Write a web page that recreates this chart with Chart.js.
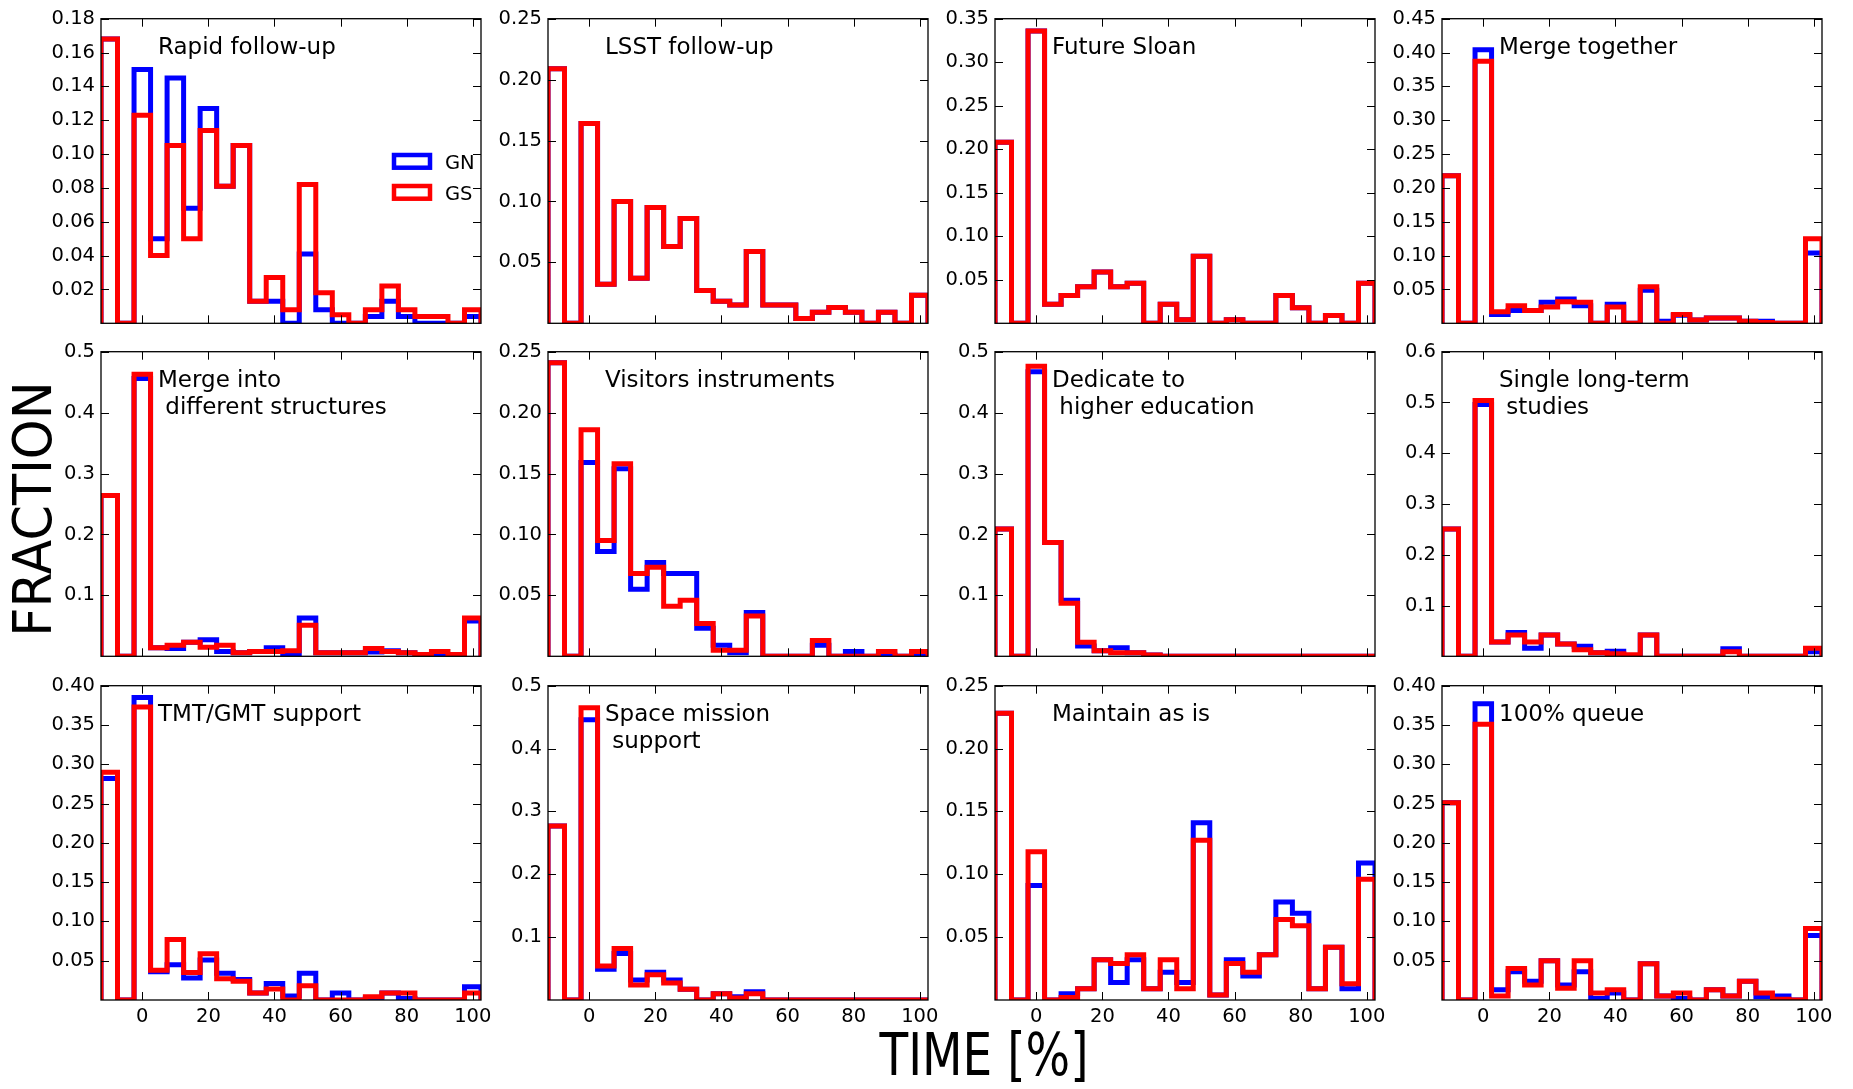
<!DOCTYPE html>
<html>
<head>
<meta charset="utf-8">
<script src="https://cdn.jsdelivr.net/npm/chart.js@4.4.0/dist/chart.umd.min.js"></script>
<style>
  body { margin: 0; background: #fff; width: 1853px; height: 1089px; overflow: hidden; position: relative; font-family: 'DejaVu Sans', sans-serif; }
  canvas { position: absolute; }
  .big { position: absolute; font-size: 58px; line-height: 58px; width: 400px; text-align: center; color: #000; white-space: nowrap; }
</style>
</head>
<body>
<div class="big" style="left:-167px;top:480px;transform:rotate(-90deg) scale(0.875,0.92)">FRACTION</div>
<div class="big" style="left:784px;top:1026px;transform:scaleX(0.81)">TIME [%]</div>
<script>
// bin centres (percent of time), every bin is 5 wide
const binCenters = [-10, -5, 0, 5, 10, 15, 20, 25, 30, 35, 40, 45, 50, 55, 60, 65, 70, 75, 80, 85, 90, 95, 100];
const binWidth = 5;
const xTicks = [0, 20, 40, 60, 80, 100];

// y tick labels
const ticks02to18 = ['0.02', '0.04', '0.06', '0.08', '0.10', '0.12', '0.14', '0.16', '0.18'];
const ticks05to25 = ['0.05', '0.10', '0.15', '0.20', '0.25'];
const ticks05to35 = ['0.05', '0.10', '0.15', '0.20', '0.25', '0.30', '0.35'];
const ticks05to40 = ['0.05', '0.10', '0.15', '0.20', '0.25', '0.30', '0.35', '0.40'];
const ticks05to45 = ['0.05', '0.10', '0.15', '0.20', '0.25', '0.30', '0.35', '0.40', '0.45'];
const ticks1to5 = ['0.1', '0.2', '0.3', '0.4', '0.5'];
const ticks1to6 = ['0.1', '0.2', '0.3', '0.4', '0.5', '0.6'];

// fractions per bin, GN and GS
const rapidGN = [0.168, 0, 0.150, 0.050, 0.145, 0.068, 0.127, 0.081, 0.105, 0.013, 0.013, 0, 0.041, 0.008, 0, 0, 0.004, 0.013, 0.004, 0, 0, 0, 0.004];
const rapidGS = [0.168, 0, 0.123, 0.040, 0.105, 0.050, 0.114, 0.081, 0.105, 0.013, 0.027, 0.008, 0.082, 0.018, 0.005, 0, 0.008, 0.022, 0.008, 0.004, 0.004, 0, 0.008];
const lsstGN = [0.209, 0, 0.164, 0.032, 0.100, 0.037, 0.095, 0.063, 0.086, 0.027, 0.018, 0.015, 0.059, 0.015, 0.015, 0.004, 0.009, 0.013, 0.009, 0, 0.009, 0, 0.023];
const lsstGS = [0.209, 0, 0.164, 0.032, 0.100, 0.037, 0.095, 0.063, 0.086, 0.027, 0.018, 0.015, 0.059, 0.015, 0.015, 0.004, 0.009, 0.013, 0.009, 0, 0.009, 0, 0.023];
const sloanGN = [0.208, 0, 0.336, 0.022, 0.032, 0.042, 0.059, 0.042, 0.046, 0, 0.022, 0.004, 0.077, 0, 0.004, 0, 0, 0.032, 0.018, 0, 0.009, 0, 0.046];
const sloanGS = [0.208, 0, 0.336, 0.022, 0.032, 0.042, 0.059, 0.042, 0.046, 0, 0.022, 0.004, 0.077, 0, 0.004, 0, 0, 0.032, 0.018, 0, 0.009, 0, 0.046];
const mergeGN = [0.218, 0, 0.404, 0.013, 0.019, 0.019, 0.031, 0.036, 0.026, 0, 0.028, 0, 0.049, 0.003, 0.012, 0.005, 0.008, 0.008, 0.003, 0.003, 0, 0, 0.104];
const mergeGS = [0.218, 0, 0.387, 0.017, 0.026, 0.019, 0.024, 0.032, 0.031, 0, 0.024, 0, 0.054, 0, 0.013, 0.005, 0.008, 0.008, 0.003, 0.001, 0, 0, 0.125];
const intoGN = [0.264, 0, 0.456, 0.014, 0.013, 0.023, 0.027, 0.008, 0.006, 0.008, 0.014, 0.004, 0.063, 0.006, 0.006, 0.006, 0.007, 0.009, 0.006, 0.003, 0.003, 0.003, 0.058];
const intoGS = [0.264, 0, 0.463, 0.014, 0.018, 0.023, 0.015, 0.018, 0.006, 0.008, 0.008, 0.009, 0.051, 0.006, 0.006, 0.006, 0.013, 0.008, 0.006, 0.003, 0.008, 0.003, 0.063];
const visGN = [0.241, 0, 0.159, 0.086, 0.154, 0.055, 0.077, 0.068, 0.068, 0.023, 0.009, 0.003, 0.036, 0, 0, 0, 0.009, 0, 0.004, 0, 0.001, 0, 0.001];
const visGS = [0.241, 0, 0.186, 0.095, 0.158, 0.068, 0.073, 0.041, 0.046, 0.027, 0.005, 0.005, 0.033, 0, 0, 0, 0.013, 0, 0, 0, 0.004, 0, 0.004];
const eduGN = [0.209, 0, 0.467, 0.187, 0.092, 0.017, 0.009, 0.014, 0.006, 0.002, 0, 0, 0, 0, 0, 0, 0, 0, 0, 0, 0, 0, 0];
const eduGS = [0.209, 0, 0.476, 0.187, 0.087, 0.023, 0.009, 0.006, 0.006, 0.002, 0, 0, 0, 0, 0, 0, 0, 0, 0, 0, 0, 0, 0];
const singleGN = [0.251, 0, 0.496, 0.028, 0.047, 0.016, 0.042, 0.024, 0.020, 0.007, 0.010, 0, 0.042, 0, 0, 0, 0, 0.015, 0, 0, 0, 0, 0.009];
const singleGS = [0.251, 0, 0.504, 0.028, 0.042, 0.028, 0.042, 0.024, 0.013, 0.007, 0.005, 0.003, 0.042, 0, 0, 0, 0, 0.009, 0, 0, 0, 0, 0.016];
const tmtGN = [0.282, 0, 0.385, 0.036, 0.045, 0.028, 0.051, 0.034, 0.026, 0.009, 0.021, 0.005, 0.034, 0, 0.009, 0, 0.002, 0.009, 0.002, 0, 0, 0, 0.017];
const tmtGS = [0.290, 0, 0.373, 0.038, 0.077, 0.035, 0.059, 0.027, 0.024, 0.009, 0.014, 0, 0.018, 0, 0, 0, 0.004, 0.009, 0.009, 0, 0, 0, 0.009];
const spaceGN = [0.277, 0, 0.446, 0.049, 0.074, 0.032, 0.044, 0.032, 0.017, 0, 0.010, 0.005, 0.013, 0, 0, 0, 0, 0, 0, 0, 0, 0, 0];
const spaceGS = [0.277, 0, 0.465, 0.054, 0.082, 0.024, 0.040, 0.027, 0.017, 0, 0.010, 0.003, 0.010, 0, 0, 0, 0, 0, 0, 0, 0, 0, 0];
const keepGN = [0.228, 0, 0.091, 0, 0.005, 0.009, 0.032, 0.014, 0.032, 0.009, 0.022, 0.014, 0.141, 0.004, 0.032, 0.019, 0.036, 0.078, 0.069, 0.009, 0.042, 0.009, 0.109];
const keepGS = [0.228, 0, 0.118, 0, 0.002, 0.009, 0.032, 0.029, 0.036, 0.009, 0.032, 0.009, 0.127, 0.004, 0.029, 0.022, 0.036, 0.064, 0.059, 0.009, 0.042, 0.013, 0.096];
const queueGN = [0.251, 0, 0.377, 0.013, 0.036, 0.024, 0.050, 0.019, 0.036, 0.002, 0.009, 0, 0.046, 0.005, 0.002, 0, 0.013, 0.005, 0.024, 0.004, 0.005, 0, 0.082];
const queueGS = [0.251, 0, 0.351, 0.005, 0.040, 0.019, 0.050, 0.015, 0.050, 0.009, 0.013, 0, 0.046, 0.005, 0.009, 0, 0.013, 0.005, 0.024, 0.009, 0.001, 0, 0.091];

const titles = [
  ['Rapid follow-up'], ['LSST follow-up'], ['Future Sloan'], ['Merge together'],
  ['Merge into', ' different structures'], ['Visitors instruments'], ['Dedicate to', ' higher education'], ['Single long-term', ' studies'],
  ['TMT/GMT support'], ['Space mission', ' support'], ['Maintain as is'], ['100% queue']
];
const gnSets = [rapidGN, lsstGN, sloanGN, mergeGN, intoGN, visGN, eduGN, singleGN, tmtGN, spaceGN, keepGN, queueGN];
const gsSets = [rapidGS, lsstGS, sloanGS, mergeGS, intoGS, visGS, eduGS, singleGS, tmtGS, spaceGS, keepGS, queueGS];
const yMaxes = [0.18, 0.25, 0.35, 0.45, 0.5, 0.25, 0.5, 0.6, 0.40, 0.5, 0.25, 0.40];
const yTickSets = [ticks02to18, ticks05to25, ticks05to35, ticks05to45, ticks1to5, ticks05to25, ticks1to5, ticks1to6, ticks05to40, ticks1to5, ticks05to25, ticks05to40];

Chart.defaults.font.family = "'DejaVu Sans', sans-serif";
Chart.defaults.font.size = 19.5;
Chart.defaults.color = '#000';

// outline of a step histogram: up the first edge, across each bin, down the last edge
function stepPoints(values) {
  const half = binWidth / 2;
  const pts = [{ x: binCenters[0] - half, y: 0 }];
  values.forEach((v, i) => pts.push({ x: binCenters[i] - half, y: v }));
  const last = binCenters[binCenters.length - 1] + half;
  pts.push({ x: last, y: values[values.length - 1] });
  pts.push({ x: last, y: 0 });
  return pts;
}

const framePlugin = {
  id: 'frame',
  afterDraw(chart, args, opts) {
    const { ctx, chartArea: a, scales: { x, y } } = chart;
    ctx.save();
    ctx.strokeStyle = '#000';
    ctx.lineWidth = 1;
    ctx.beginPath();
    xTicks.forEach(v => {
      const px = Math.round(x.getPixelForValue(v)) + 0.5;
      ctx.moveTo(px, a.bottom); ctx.lineTo(px, a.bottom - 8);
      ctx.moveTo(px, a.top); ctx.lineTo(px, a.top + 8);
    });
    y.ticks.forEach(t => {
      const py = Math.round(y.getPixelForValue(t.value)) + 0.5;
      ctx.moveTo(a.left, py); ctx.lineTo(a.left + 8, py);
      ctx.moveTo(a.right, py); ctx.lineTo(a.right - 8, py);
    });
    ctx.stroke();
    ctx.lineWidth = 1.3;
    ctx.strokeRect(a.left, a.top, a.right - a.left, a.bottom - a.top);

    ctx.fillStyle = '#000';
    ctx.textBaseline = 'alphabetic';
    ctx.textAlign = 'left';
    ctx.font = "23px 'DejaVu Sans'";
    opts.title.forEach((line, k) => ctx.fillText(line, a.left + 57, a.top + 35 + k * 27.7));

    if (opts.legend) {
      ctx.font = "19.5px 'DejaVu Sans'";
      chart.data.datasets.forEach((ds, k) => {
        const top = a.top + 134.3 + k * 31;
        ctx.strokeStyle = ds.borderColor;
        ctx.lineWidth = 4.5;
        ctx.strokeRect(a.right - 87, top + 2, 36, 12.7);
        ctx.fillText(ds.label, a.right - 36, top + 15.7);
      });
    }
    ctx.restore();
  }
};

const colLeft = [101, 548, 995, 1442];
const rowTop = [16, 349, 683];
const plotW = 380, plotH = 317;
const padL = 75, padT = 15, padR = 25;

titles.forEach((title, i) => {
  const row = Math.floor(i / 4), col = i % 4;
  const bottomRow = row === 2;
  const w = padL + plotW + padR;
  const h = padT + plotH + (bottomRow ? 45 : 8);
  const cv = document.createElement('canvas');
  cv.width = w; cv.height = h;
  cv.style.left = (colLeft[col] - padL) + 'px';
  cv.style.top = (rowTop[row] - padT) + 'px';
  cv.style.width = w + 'px'; cv.style.height = h + 'px';
  document.body.appendChild(cv);

  const yLabels = yTickSets[i];
  new Chart(cv, {
    type: 'line',
    data: {
      datasets: [
        { label: 'GN', data: stepPoints(gnSets[i]), borderColor: '#0000ff', borderWidth: 5, stepped: true, pointRadius: 0, fill: false, clip: 0, order: 1, borderJoinStyle: 'miter' },
        { label: 'GS', data: stepPoints(gsSets[i]), borderColor: '#ff0000', borderWidth: 5, stepped: true, pointRadius: 0, fill: false, clip: 0, order: 0, borderJoinStyle: 'miter' }
      ]
    },
    options: {
      responsive: false, animation: false, devicePixelRatio: 1, events: [],
      layout: { padding: { left: 0, top: padT, right: padR, bottom: bottomRow ? 0 : 8 } },
      plugins: { legend: { display: false }, tooltip: { enabled: false }, frame: { title: title, legend: i === 0 } },
      scales: {
        x: {
          type: 'linear', min: -12.5, max: 102.5, display: bottomRow,
          grid: { display: false, drawTicks: false }, border: { display: false },
          afterBuildTicks: s => { s.ticks = xTicks.map(v => ({ value: v })); },
          afterFit: s => { s.height = bottomRow ? 45 : 0; },
          ticks: { padding: 5, maxRotation: 0, autoSkip: false }
        },
        y: {
          type: 'linear', min: 0, max: yMaxes[i],
          grid: { display: false, drawTicks: false }, border: { display: false },
          afterBuildTicks: s => { s.ticks = yLabels.map(l => ({ value: Number(l) })); },
          afterFit: s => { s.width = padL; },
          ticks: { padding: 6, autoSkip: false, callback: (v, idx) => yLabels[idx] }
        }
      }
    },
    plugins: [framePlugin]
  });
});
</script>
</body>
</html>
